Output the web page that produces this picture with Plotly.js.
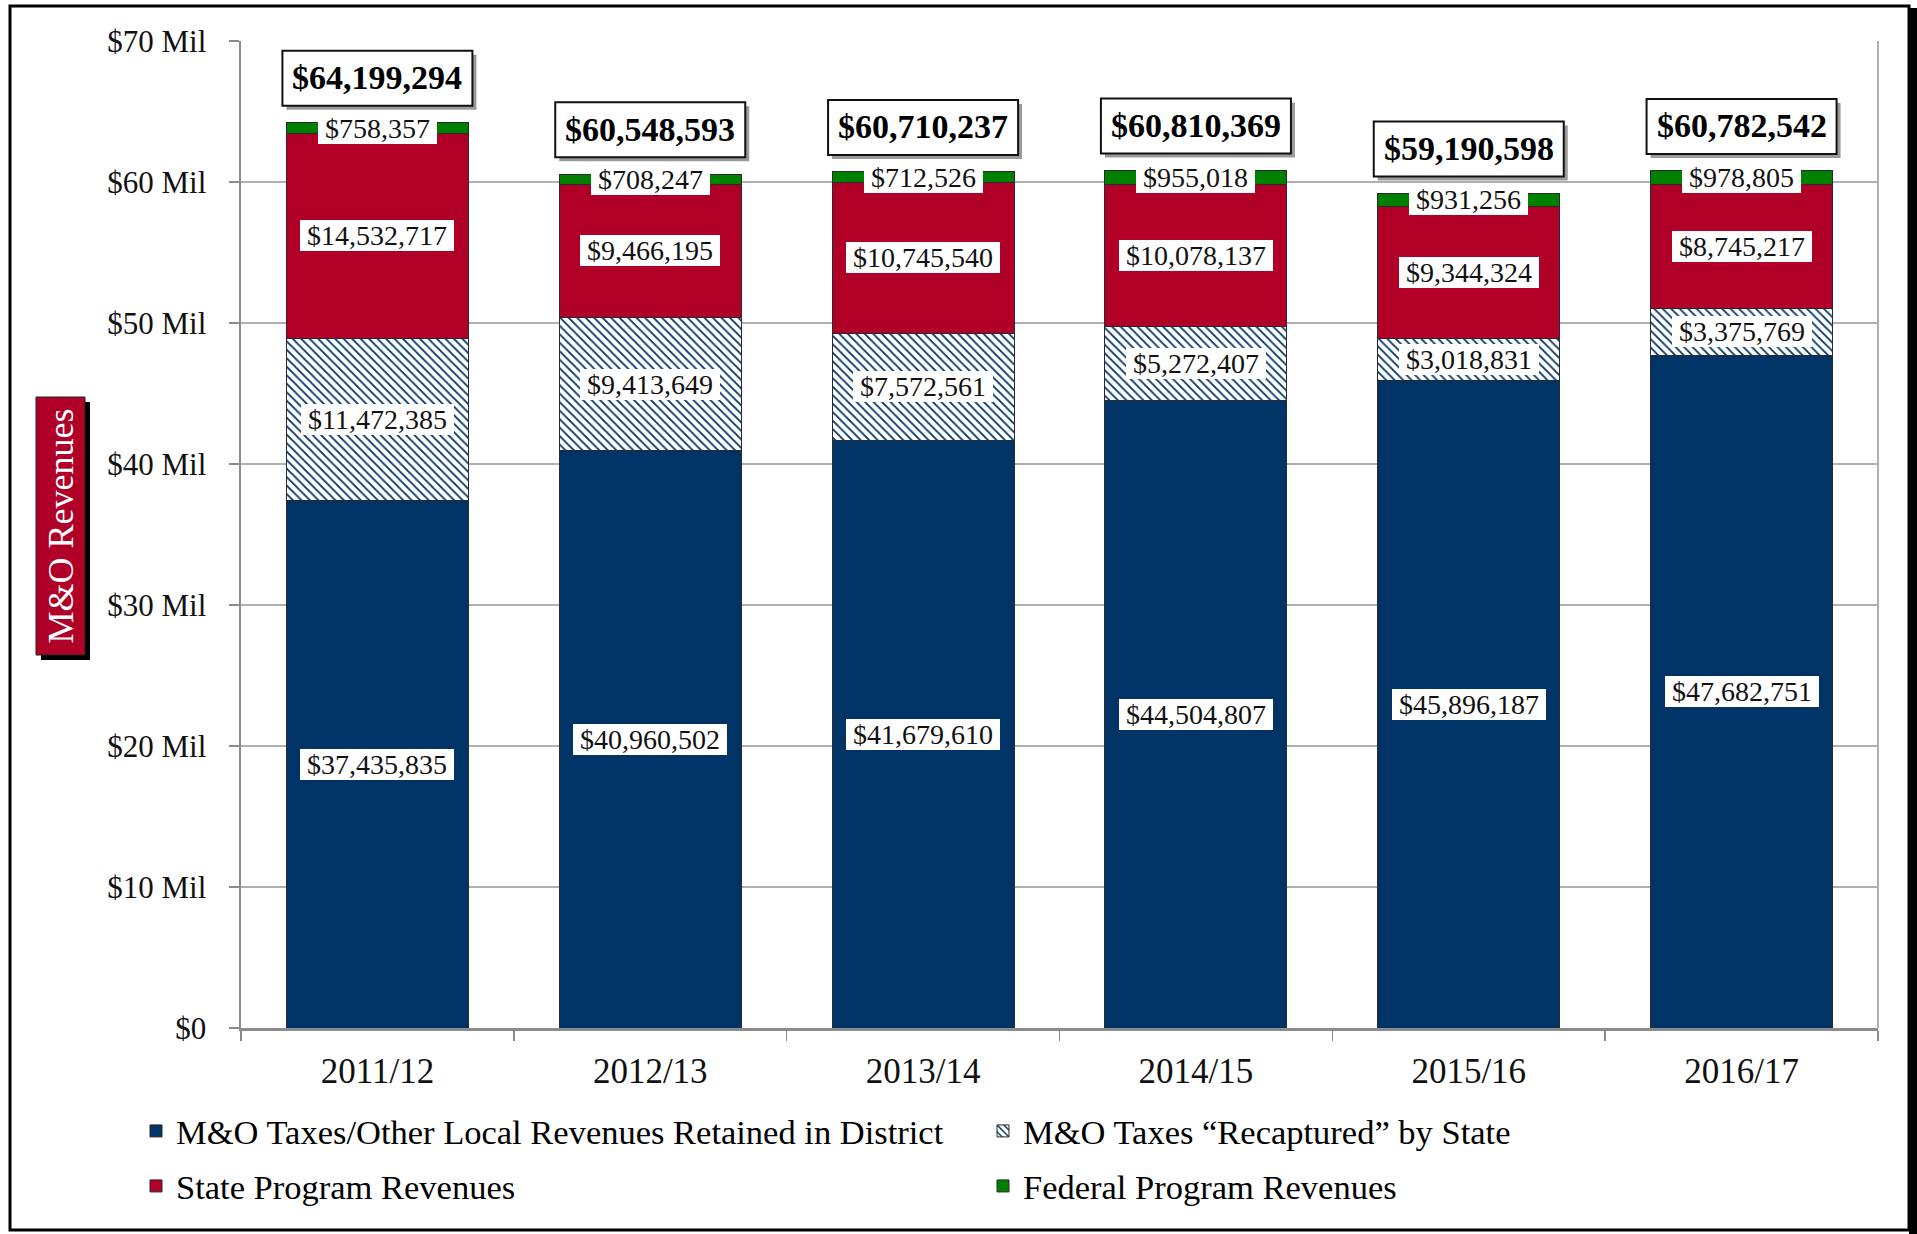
<!DOCTYPE html>
<html>
<head>
<meta charset="utf-8">
<script src="https://cdn.plot.ly/plotly-3.0.1.min.js"></script>
<style>html,body{margin:0;padding:0;background:#fff;}#chart{width:1917px;height:1234px;}</style>
</head>
<body>
<div id="chart"></div>
<script>
const years = ['2011/12', '2012/13', '2013/14', '2014/15', '2015/16', '2016/17'];
const localRetained = [37435835, 40960502, 41679610, 44504807, 45896187, 47682751];
const recaptured = [11472385, 9413649, 7572561, 5272407, 3018831, 3375769];
const stateProgram = [14532717, 9466195, 10745540, 10078137, 9344324, 8745217];
const federalProgram = [758357, 708247, 712526, 955018, 931256, 978805];
const totals = [64199294, 60548593, 60710237, 60810369, 59190598, 60782542];
const yTickVals = [0, 10e6, 20e6, 30e6, 40e6, 50e6, 60e6, 70e6];
const yTickText = ['$0', '$10 Mil', '$20 Mil', '$30 Mil', '$40 Mil', '$50 Mil', '$60 Mil', '$70 Mil'];
const seriesNames = [
  'M&O Taxes/Other Local Revenues Retained in District',
  'M&O Taxes \u201cRecaptured\u201d by State',
  'State Program Revenues',
  'Federal Program Revenues'
];
const yTitle = 'M&O Revenues';

const NAVY = '#003366', RED = '#b00028', GREEN = '#008000';
const FONT = 'Liberation Serif, Times New Roman, serif';
const money = v => '$' + v.toLocaleString('en-US');
const edge = {color: '#2a2a2a', width: 1};

const seriesValues = [localRetained, recaptured, stateProgram, federalProgram];
const traces = [
  {type: 'bar', name: seriesNames[0], x: years, y: localRetained, legend: 'legend',
   marker: {color: NAVY, line: edge}},
  {type: 'bar', name: seriesNames[1], x: years, y: recaptured, legend: 'legend',
   marker: {color: 'white', line: edge,
            pattern: {shape: '\\', fgcolor: NAVY, bgcolor: 'white', size: 6, solidity: 0.3}}},
  {type: 'bar', name: seriesNames[2], x: years, y: stateProgram, legend: 'legend2',
   marker: {color: RED, line: edge}},
  {type: 'bar', name: seriesNames[3], x: years, y: federalProgram, legend: 'legend2',
   marker: {color: GREEN, line: edge}}
];

const px = v => (v - 241) / 1637;
const py = v => (1028 - v) / 987;

const annotations = [];
const shapes = [];
// segment value labels
const base = years.map(() => 0);
seriesValues.forEach(vals => {
  vals.forEach((v, i) => {
    annotations.push({
      x: years[i], y: base[i] + v / 2, xref: 'x', yref: 'y',
      text: '\u00a0' + money(v) + '\u00a0', showarrow: false,
      font: {family: FONT, size: 28, color: '#111'},
      bgcolor: 'white', borderpad: 0, borderwidth: 0
    });
    base[i] += v;
  });
});
// total labels: shadow + box shapes, text annotation on top
totals.forEach((t, i) => {
  shapes.push({
    type: 'rect', xref: 'x', yref: 'y', xsizemode: 'pixel', ysizemode: 'pixel',
    xanchor: i, yanchor: t, x0: -91, x1: 99, y0: 13, y1: 68,
    line: {width: 0}, fillcolor: '#9a9a9a', layer: 'above'
  });
  shapes.push({
    type: 'rect', xref: 'x', yref: 'y', xsizemode: 'pixel', ysizemode: 'pixel',
    xanchor: i, yanchor: t, x0: -95, x1: 95, y0: 17, y1: 72,
    line: {color: '#111', width: 2}, fillcolor: 'white', layer: 'above'
  });
  annotations.push({
    x: years[i], y: t, xref: 'x', yref: 'y', yanchor: 'middle', yshift: 45,
    text: '<b>' + money(t) + '</b>', showarrow: false,
    font: {family: FONT, size: 34, color: '#000'}
  });
});
// y-axis title box with shadow
shapes.push({type: 'rect', xref: 'paper', yref: 'paper',
  x0: px(41), x1: px(90), y0: py(660), y1: py(402), line: {width: 0}, fillcolor: '#000'});
shapes.push({type: 'rect', xref: 'paper', yref: 'paper',
  x0: px(36), x1: px(85), y0: py(655), y1: py(397), line: {color: '#222', width: 1}, fillcolor: RED});
annotations.push({
  x: px(60.5), y: py(526), xref: 'paper', yref: 'paper', xanchor: 'center', yanchor: 'middle',
  text: yTitle, textangle: -90, showarrow: false,
  font: {family: FONT, size: 36, color: '#fff'}
});

shapes.push(
  {type: 'line', xref: 'paper', yref: 'paper', x0: 1, x1: 1, y0: 0, y1: 1,
   line: {color: '#b0b0b0', width: 2}},
  {type: 'rect', xref: 'paper', yref: 'paper', x0: px(10), x1: px(1909), y0: py(1230), y1: py(6),
   line: {color: '#000', width: 3}, fillcolor: 'rgba(0,0,0,0)'},
  {type: 'rect', xref: 'paper', yref: 'paper', x0: px(1909), x1: px(1925), y0: py(1240), y1: py(8),
   line: {width: 0}, fillcolor: '#000'}
);

const legendCommon = {
  orientation: 'h', xanchor: 'left', yanchor: 'middle', x: px(136),
  bgcolor: 'rgba(0,0,0,0)', borderwidth: 0, traceorder: 'normal',
  entrywidth: 802, entrywidthmode: 'pixels',
  font: {family: FONT, size: 34.5, color: '#000'}
};

const layout = {
  width: 1917, height: 1234,
  margin: {l: 241, r: 39, t: 41, b: 206, autoexpand: false},
  paper_bgcolor: 'white', plot_bgcolor: 'white',
  font: {family: FONT, color: '#000'},
  barmode: 'stack', bargap: 0.333,
  showlegend: true,
  legend: Object.assign({}, legendCommon, {y: py(1131)}),
  legend2: Object.assign({}, legendCommon, {y: py(1186)}),
  xaxis: {
    type: 'category', showgrid: false, zeroline: false,
    showline: true, linecolor: '#8c8c8c', linewidth: 2.5,
    ticks: 'outside', tickson: 'boundaries', ticklen: 10, tickcolor: '#8c8c8c', tickwidth: 1.5,
    tickfont: {family: FONT, size: 35, color: '#111'}, ticklabelstandoff: 10
  },
  yaxis: {
    range: [0, 70e6], tickvals: yTickVals, ticktext: yTickText,
    showgrid: true, gridcolor: '#b0b0b0', gridwidth: 1.5, zeroline: false,
    showline: true, linecolor: '#8c8c8c', linewidth: 2.5,
    ticks: 'outside', ticklen: 10, tickcolor: '#8c8c8c', tickwidth: 1.5,
    tickfont: {family: FONT, size: 31, color: '#111'}, ticklabelstandoff: 16
  },
  annotations: annotations,
  shapes: shapes
};

Plotly.newPlot('chart', traces, layout, {displayModeBar: false, staticPlot: true});
</script>
</body>
</html>
